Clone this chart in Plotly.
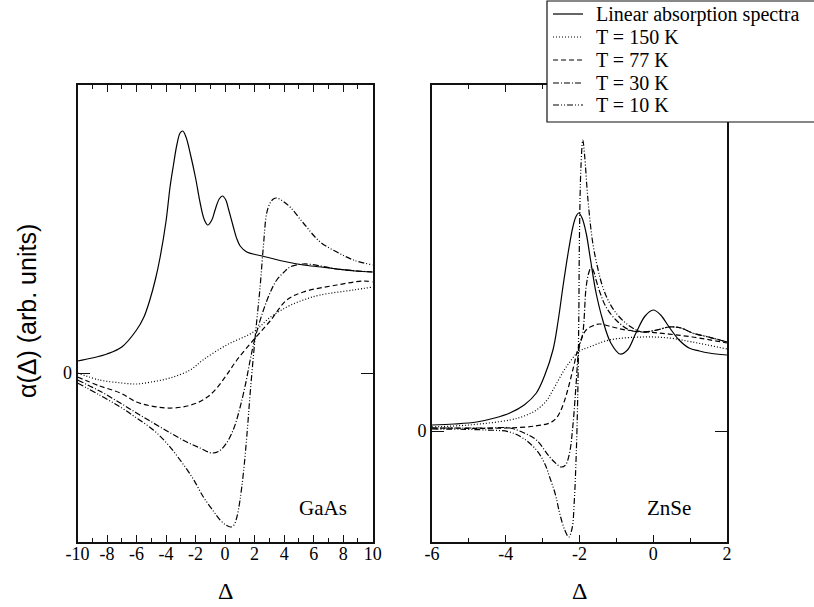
import plotly.graph_objects as go

# ---------------- GaAs (left panel) ----------------
gaas_lin_x = [-10, -9, -8, -7, -6, -5.5, -5.1, -4.7, -4.4, -4.0, -3.73, -3.5, -3.27, -3.05, -2.87, -2.65, -2.37,
              -2.0, -1.69, -1.4, -1.17, -0.9, -0.68, -0.4, -0.18, 0.05, 0.23, 0.56, 0.8, 1.02, 1.47, 2.2, 3.05,
              4.2, 5.3, 6.5, 7.57, 8.8, 10]
gaas_lin_y = [0.12, 0.15, 0.19, 0.26, 0.43, 0.56, 0.73, 0.95, 1.16, 1.52, 1.86, 2.08, 2.28, 2.40, 2.42, 2.36, 2.20,
              1.95, 1.70, 1.53, 1.48, 1.53, 1.63, 1.74, 1.77, 1.73, 1.64, 1.46, 1.34, 1.27, 1.21, 1.18, 1.15,
              1.11, 1.08, 1.06, 1.04, 1.02, 1.01]

gaas_150_x = [-10, -8.5, -7, -6, -5, -3.73, -2.37, -1.5, 0.1, 1.92, 3.0, 4.18, 5.3, 6.44, 8.7, 10]
gaas_150_y = [0.0, -0.07, -0.10, -0.11, -0.09, -0.05, 0.03, 0.13, 0.28, 0.41, 0.55, 0.66, 0.73, 0.78, 0.83, 0.86]

gaas_77_x = [-10, -8.5, -7.1, -6, -5, -3.95, -2.9, -1.92, -1.2, -0.56, 0.1, 0.8, 1.92, 3.05, 4.18, 5.3, 7.57, 9.35, 10]
gaas_77_y = [-0.04, -0.13, -0.20, -0.29, -0.33, -0.35, -0.34, -0.30, -0.24, -0.15, -0.02, 0.13, 0.33, 0.52, 0.73,
             0.81, 0.88, 0.92, 0.91]

gaas_30_x = [-10, -8.5, -7.1, -6, -4.86, -3.7, -2.6, -1.7, -0.9, -0.4, 0.1, 0.6, 1.02, 1.4, 1.7, 2.03, 2.6, 3.1,
             3.5, 4.0, 4.4, 5.3, 6.5, 7.57, 10]
gaas_30_y = [-0.07, -0.18, -0.30, -0.40, -0.50, -0.60, -0.69, -0.75, -0.80, -0.78, -0.70, -0.55, -0.34, -0.10,
             0.13, 0.35, 0.63, 0.82, 0.93, 1.01, 1.06, 1.09, 1.07, 1.04, 1.01]

gaas_10_x = [-10, -8.5, -7.1, -6, -4.86, -3.9, -3.05, -2.2, -1.47, -0.8, -0.34, 0.05, 0.38, 0.6, 0.8, 1.0, 1.24,
             1.5, 1.7, 2.03, 2.37, 2.6, 2.82, 3.05, 3.27, 3.5, 3.9, 4.4, 5.3, 6.44, 7.57, 8.7, 10]
gaas_10_y = [-0.10, -0.22, -0.34, -0.45, -0.57, -0.71, -0.87, -1.05, -1.24, -1.38, -1.47, -1.52, -1.54, -1.52,
             -1.44, -1.28, -1.00, -0.58, -0.20, 0.35, 0.86, 1.28, 1.60, 1.70, 1.74, 1.75, 1.72, 1.66, 1.50,
             1.31, 1.21, 1.13, 1.08]

# ---------------- ZnSe (right panel) ----------------
znse_lin_x = [-6, -5.4, -4.79, -4.3, -3.89, -3.5, -3.17, -2.95, -2.72, -2.58, -2.45, -2.3, -2.18, -2.1, -2.02,
              -1.93, -1.82, -1.7, -1.55, -1.37, -1.15, -0.9, -0.7, -0.47, -0.22, 0, 0.2, 0.43, 0.7, 0.97,
              1.25, 1.51, 2]
znse_lin_y = [0.06, 0.07, 0.09, 0.13, 0.18, 0.26, 0.38, 0.55, 0.81, 1.10, 1.44, 1.80, 2.04, 2.14, 2.18, 2.13,
              1.98, 1.71, 1.38, 1.11, 0.88, 0.77, 0.81, 0.98, 1.15, 1.21, 1.16, 1.04, 0.91, 0.83, 0.80,
              0.78, 0.76]

znse_150_x = [-6, -5, -3.89, -3.5, -3.17, -2.9, -2.72, -2.36, -2.0, -1.73, -1.19, -0.29, 0.43, 1.06, 2]
znse_150_y = [0.04, 0.06, 0.11, 0.15, 0.21, 0.30, 0.41, 0.64, 0.80, 0.84, 0.91, 0.94, 0.93, 0.89, 0.82]

znse_77_x = [-6, -4, -3.2, -2.81, -2.65, -2.54, -2.4, -2.27, -2.15, -2.05, -1.94, -1.82, -1.65, -1.46, -1.1,
             -0.74, 0.16, 1.06, 2]
znse_77_y = [0.03, 0.03, 0.05, 0.08, 0.12, 0.18, 0.31, 0.48, 0.66, 0.81, 0.93, 1.01, 1.05, 1.07, 1.04,
             1.01, 0.98, 0.94, 0.88]

znse_30_x = [-6, -4.5, -3.89, -3.5, -3.17, -2.81, -2.62, -2.5, -2.38, -2.27, -2.18, -2.09, -2.02, -1.91, -1.82,
             -1.75, -1.68, -1.6, -1.55, -1.42, -1.28, -1.01, -0.65, -0.29, 0.1, 0.43, 0.75, 1.06, 1.5, 2]
znse_30_y = [0.03, 0.03, 0.03, -0.02, -0.09, -0.26, -0.33, -0.36, -0.34, -0.22, 0.05, 0.48, 0.81, 0.98, 1.44,
             1.58, 1.64, 1.58, 1.51, 1.36, 1.24, 1.11, 1.01, 0.99, 1.01, 1.04, 1.03, 0.98, 0.94, 0.89]

znse_10_x = [-6, -4.5, -3.89, -3.5, -3.17, -2.95, -2.81, -2.65, -2.54, -2.4, -2.29, -2.2, -2.14, -2.09, -2.05,
             -2.02, -2.0, -1.96, -1.91, -1.86, -1.77, -1.64, -1.5, -1.37, -1.2, -1.01, -0.78, -0.56, -0.29,
             0.1, 0.43, 0.75, 1.06, 1.5, 2]
znse_10_y = [0.02, 0.01, -0.01, -0.08, -0.19, -0.32, -0.46, -0.64, -0.82, -0.99, -1.06, -0.97, -0.69, -0.25,
             0.31, 1.10, 1.98, 2.65, 2.91, 2.75, 2.31, 1.88, 1.62, 1.44, 1.29, 1.18, 1.09, 1.03, 0.99,
             1.01, 1.04, 1.03, 0.98, 0.94, 0.89]

series_names = ["Linear absorption spectra", "T = 150 K", "T = 77 K", "T = 30 K", "T = 10 K"]
dash_styles = ["solid", "1px,2px", "5px,3px", "6px,2px,1px,2px", "6px,2px,1px,2px,1px,2px"]

gaas = [(gaas_lin_x, gaas_lin_y), (gaas_150_x, gaas_150_y), (gaas_77_x, gaas_77_y),
        (gaas_30_x, gaas_30_y), (gaas_10_x, gaas_10_y)]
znse = [(znse_lin_x, znse_lin_y), (znse_150_x, znse_150_y), (znse_77_x, znse_77_y),
        (znse_30_x, znse_30_y), (znse_10_x, znse_10_y)]

gaas_ticks = list(range(-10, 11, 2))
znse_ticks = list(range(-6, 3, 2))

SERIF = "Liberation Serif"
SANS = "Liberation Sans"
INK = "#111"
W, H = 814, 607


def px(xp):
    return xp / W


def py(yp):
    return (H - yp) / H


fig = go.Figure()
for i, (name, dash) in enumerate(zip(series_names, dash_styles)):
    gx, gy = gaas[i]
    fig.add_trace(go.Scatter(x=gx, y=gy, mode="lines", name=name,
                             line=dict(color="black", width=1.2, dash=dash, shape="spline", smoothing=1.0),
                             xaxis="x", yaxis="y", showlegend=False))
    zx, zy = znse[i]
    fig.add_trace(go.Scatter(x=zx, y=zy, mode="lines", name=name,
                             line=dict(color="black", width=1.2, dash=dash, shape="spline", smoothing=1.0),
                             xaxis="x2", yaxis="y2", showlegend=False))

ydom = [py(541.7), py(85)]

common_x = dict(showline=True, linewidth=2, linecolor=INK, mirror="ticks", ticks="inside",
                ticklen=7, tickwidth=1.3, tickcolor=INK, showgrid=False, zeroline=False,
                tickfont=dict(family=SERIF, size=18, color="black"), ticklabelstandoff=-5,
                minor=dict(ticks="inside", ticklen=4, tickwidth=1.2, tickcolor=INK, dtick=1, showgrid=False))
common_y = dict(showline=True, linewidth=2, linecolor=INK, mirror="ticks", ticks="inside",
                ticklen=12, tickwidth=1.3, tickcolor=INK, showgrid=False, zeroline=False,
                tickvals=[0], ticktext=["0"],
                tickfont=dict(family=SERIF, size=18, color="black"), domain=ydom)

fig.update_layout(
    width=W, height=H, margin=dict(l=0, r=0, t=0, b=0, autoexpand=False),
    paper_bgcolor="white", plot_bgcolor="white", showlegend=False,
    xaxis=dict(domain=[px(77.5), px(372.7)], range=[-10, 10], tickvals=gaas_ticks,
               ticktext=[str(v) for v in gaas_ticks], anchor="y", **common_x),
    yaxis=dict(range=[-1.687, 2.88], anchor="x", **common_y),
    xaxis2=dict(domain=[px(432), px(727)], range=[-6, 2], tickvals=znse_ticks,
                ticktext=[str(v) for v in znse_ticks], anchor="y2", **common_x),
    yaxis2=dict(range=[-1.107, 3.46], anchor="x2", **common_y),
)

# Key box in the upper right corner: white panel, line samples and labels
fig.add_shape(type="rect", xref="paper", yref="paper", x0=px(547), x1=px(830), y0=py(122), y1=py(1),
              fillcolor="white", line=dict(color=INK, width=1.2), layer="above")
row_y = [14, 37, 60, 83, 105]
for name, dash, ry in zip(series_names, dash_styles, row_y):
    fig.add_shape(type="line", xref="paper", yref="paper", x0=px(553), x1=px(583), y0=py(ry), y1=py(ry),
                  line=dict(color="black", width=1.2, dash=dash), layer="above")
    fig.add_annotation(x=px(594), y=py(ry), xref="paper", yref="paper", text=name, showarrow=False,
                       xanchor="left", yanchor="middle", font=dict(family=SERIF, size=20, color="black"))

fig.add_annotation(x=6.64, y=-1.35, xref="x", yref="y", text="GaAs", showarrow=False,
                   xanchor="center", yanchor="middle", font=dict(family=SERIF, size=21, color="black"))
fig.add_annotation(x=0.42, y=-0.77, xref="x2", yref="y2", text="ZnSe", showarrow=False,
                   xanchor="center", yanchor="middle", font=dict(family=SERIF, size=21, color="black"))
fig.add_annotation(x=0.5, y=py(591), xref="x domain", yref="paper", text="Δ", showarrow=False,
                   xanchor="center", yanchor="middle", font=dict(family=SERIF, size=24, color="black"))
fig.add_annotation(x=0.5, y=py(591), xref="x2 domain", yref="paper", text="Δ", showarrow=False,
                   xanchor="center", yanchor="middle", font=dict(family=SERIF, size=24, color="black"))
fig.add_annotation(x=px(27), y=py(311), xref="paper", yref="paper", text="α(Δ) (arb. units)",
                   textangle=-90, showarrow=False, xanchor="center", yanchor="middle",
                   font=dict(family=SANS, size=25, color="black"))

fig.write_html("out.html")
